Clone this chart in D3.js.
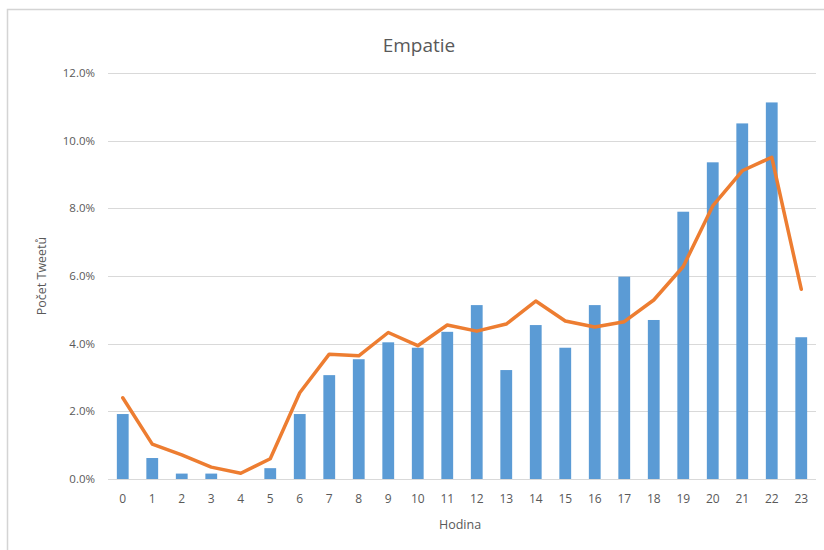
<!DOCTYPE html>
<html>
<head>
<meta charset="utf-8">
<script src="https://cdn.jsdelivr.net/npm/d3@7"></script>
<style>
  body { margin: 0; background: #fff; }
  text { font-family: "Open Sans", "DejaVu Sans", sans-serif; fill: #595959; }
</style>
</head>
<body>
<div id="chart"></div>
<script>
// hodiny 0-23
const hours = d3.range(0, 24).map(String);
// sloupce - podil tweetu (%)
const barValues = [1.92, 0.62, 0.16, 0.16, 0.0, 0.32, 1.92, 3.07, 3.54, 4.04, 3.88, 4.35,
                   5.14, 3.22, 4.55, 3.88, 5.14, 5.98, 4.70, 7.90, 9.36, 10.51, 11.13, 4.19];
// cara
const lineValues = [2.40, 1.03, 0.71, 0.35, 0.17, 0.60, 2.55, 3.69, 3.64, 4.33, 3.94, 4.55,
                    4.37, 4.58, 5.26, 4.67, 4.49, 4.65, 5.29, 6.28, 8.07, 9.11, 9.51, 5.61];
const yTicks = [0, 2, 4, 6, 8, 10, 12];

const width = 824, height = 550;
const margin = {top: 73, right: 8, bottom: 71, left: 108};

const svg = d3.select('#chart').append('svg')
    .attr('width', width)
    .attr('height', height);

// ramecek grafu (pravy a spodni okraj je mimo obrazek)
svg.append('rect')
    .attr('x', 7.5).attr('y', 9.5)
    .attr('width', 830).attr('height', 560)
    .attr('fill', 'none')
    .attr('stroke', '#d4d4d4')
    .attr('stroke-width', 1.5);

const x = d3.scaleBand()
    .domain(hours)
    .range([margin.left, width - margin.right])
    .paddingInner(0.6)
    .paddingOuter(0.3);

const xc = (d) => x(d) + x.bandwidth() / 2;

const y = d3.scaleLinear()
    .domain([0, 12])
    .range([height - margin.bottom, margin.top]);

// mrizka
svg.append('g')
    .selectAll('line')
    .data(yTicks)
    .enter().append('line')
    .attr('x1', margin.left)
    .attr('x2', width - margin.right)
    .attr('y1', (d) => Math.round(y(d)) + 0.5)
    .attr('y2', (d) => Math.round(y(d)) + 0.5)
    .attr('stroke', '#d9d9d9')
    .attr('stroke-width', 1);

// popisky osy y
svg.append('g')
    .selectAll('text')
    .data(yTicks)
    .enter().append('text')
    .attr('x', 95)
    .attr('y', (d) => y(d) + 4)
    .attr('text-anchor', 'end')
    .style('font-size', '11.5px')
    .text((d) => d.toFixed(1) + '%');

// sloupce
svg.append('g')
    .selectAll('rect')
    .data(barValues)
    .enter().append('rect')
    .attr('x', (d, i) => x(hours[i]))
    .attr('y', (d) => y(d))
    .attr('width', x.bandwidth())
    .attr('height', (d) => y(0) - y(d))
    .attr('fill', '#5b9bd5');

// cara
const line = d3.line()
    .x((d, i) => xc(hours[i]))
    .y((d) => y(d));

svg.append('path')
    .datum(lineValues)
    .attr('d', line)
    .attr('fill', 'none')
    .attr('stroke', '#ed7d31')
    .attr('stroke-width', 3.5)
    .attr('stroke-linejoin', 'round')
    .attr('stroke-linecap', 'round');

// popisky osy x
svg.append('g')
    .selectAll('text')
    .data(hours)
    .enter().append('text')
    .attr('x', (d) => xc(d))
    .attr('y', 503)
    .attr('text-anchor', 'middle')
    .style('font-size', '12px')
    .text((d) => d);

// nadpis
svg.append('text')
    .attr('x', 419)
    .attr('y', 52)
    .attr('text-anchor', 'middle')
    .style('font-size', '19px')
    .text('Empatie');

// nazvy os
svg.append('text')
    .attr('x', 460)
    .attr('y', 529)
    .attr('text-anchor', 'middle')
    .style('font-size', '12.5px')
    .text('Hodina');

svg.append('text')
    .attr('transform', 'translate(46,276)rotate(-90)')
    .attr('text-anchor', 'middle')
    .style('font-size', '12.5px')
    .text('Počet Tweetů');
</script>
</body>
</html>
